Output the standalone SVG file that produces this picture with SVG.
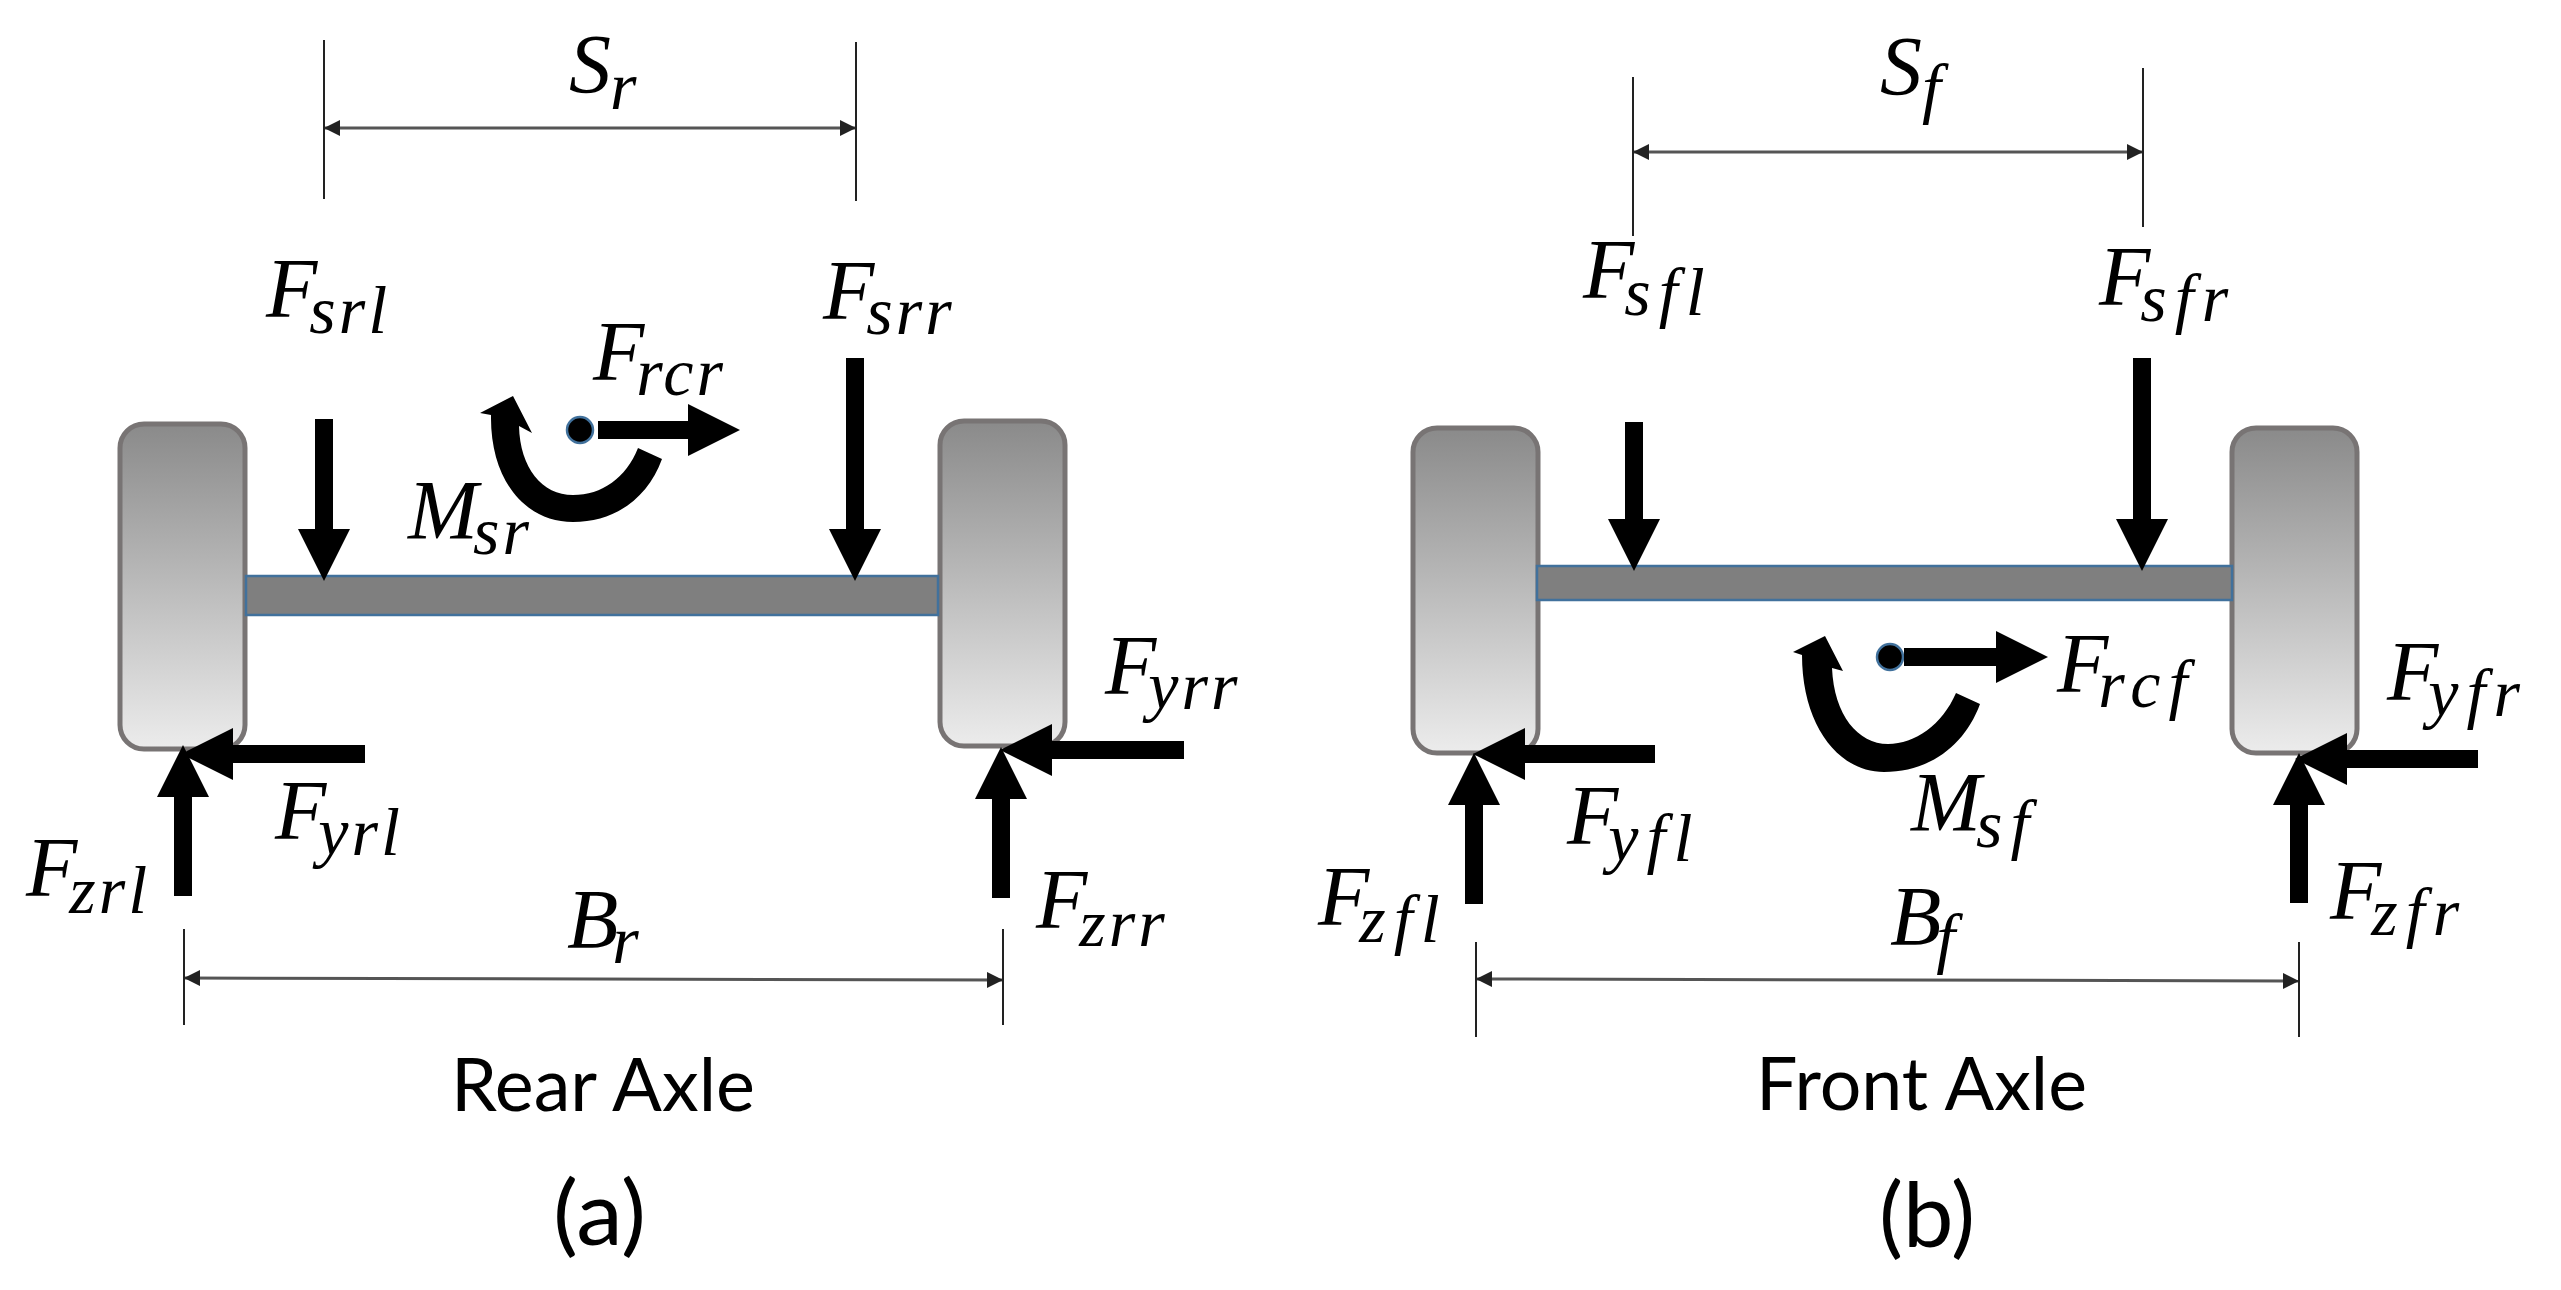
<svg xmlns="http://www.w3.org/2000/svg" width="2561" height="1290" viewBox="0 0 2561 1290">
<style>
.wheel{fill:url(#wheelGrad);stroke:#787474;stroke-width:5}
.axle{fill:#7f7f7f;stroke:#41719c;stroke-width:2.5}
.dot{fill:#000;stroke:#41719c;stroke-width:2.5}
.force{stroke:#000;stroke-width:18;fill:none;marker-end:url(#head)}
.tick{stroke:#222;stroke-width:2;fill:none}
.dim{stroke:#555;stroke-width:3;fill:none;marker-start:url(#dimHead);marker-end:url(#dimHead)}
.m{font-family:"Liberation Serif",serif;font-style:italic;font-size:84px;fill:#000}
.s{font-size:68px;letter-spacing:3px}
.f{font-size:68px;letter-spacing:8px}
.t{font-family:Lato,"Open Sans",sans-serif;fill:#000}
.cap{font-size:73px}
.fig{font-size:89px}
</style>
<defs>
<linearGradient id="wheelGrad" x1="0" y1="0" x2="0" y2="1"><stop offset="0" stop-color="#8a8a8a"/><stop offset="1" stop-color="#ececec"/></linearGradient>
<marker id="head" markerUnits="userSpaceOnUse" viewBox="0 0 52 52" markerWidth="52" markerHeight="52" refX="1" refY="26" orient="auto"><path d="M0 0L52 26L0 52z" fill="#000"/></marker>
<marker id="dimHead" markerUnits="userSpaceOnUse" viewBox="0 0 16 16" markerWidth="16" markerHeight="16" refX="15" refY="8" orient="auto-start-reverse"><path d="M0 0L16 8L0 16z" fill="#222"/></marker>
</defs>
<rect width="2561" height="1290" fill="#fff"/>

<g id="wheel-rear-left"><rect class="wheel" x="120" y="424" width="125" height="325" rx="24"/></g>
<g id="wheel-rear-right"><rect class="wheel" x="940" y="421" width="125" height="325" rx="24"/></g>
<g id="axle-rear"><rect class="axle" x="246" y="576" width="692" height="39"/></g>
<g id="roll-centre-rear"><circle class="dot" cx="580" cy="430" r="13"/></g>
<g id="wheel-front-left"><rect class="wheel" x="1413" y="428" width="125" height="325" rx="24"/></g>
<g id="wheel-front-right"><rect class="wheel" x="2232" y="428" width="125" height="325" rx="24"/></g>
<g id="axle-front"><rect class="axle" x="1537" y="566" width="695" height="34"/></g>
<g id="roll-centre-front"><circle class="dot" cx="1890" cy="657" r="13"/></g>

<g id="connectors">
<line class="tick" x1="324" y1="40" x2="324" y2="199"/>
<line class="tick" x1="856" y1="42" x2="856" y2="201"/>
<line class="dim" x1="325" y1="128" x2="855" y2="128"/>
<line class="tick" x1="184" y1="929" x2="184" y2="1025"/>
<line class="tick" x1="1003" y1="929" x2="1003" y2="1025"/>
<line class="dim" x1="185" y1="978" x2="1002" y2="980"/>
<line class="tick" x1="1633" y1="77" x2="1633" y2="236"/>
<line class="tick" x1="2143" y1="68" x2="2143" y2="227"/>
<line class="dim" x1="1634" y1="152" x2="2142" y2="152"/>
<line class="tick" x1="1476" y1="942" x2="1476" y2="1037"/>
<line class="tick" x1="2299" y1="942" x2="2299" y2="1037"/>
<line class="dim" x1="1477" y1="979" x2="2298" y2="981"/>

<line class="force" x1="324" y1="419" x2="324" y2="530"/>
<line class="force" x1="855" y1="358" x2="855" y2="530"/>
<line class="force" x1="598" y1="430" x2="689" y2="430"/>
<line class="force" x1="183" y1="896" x2="183" y2="796"/>
<line class="force" x1="365" y1="754" x2="232" y2="754"/>
<line class="force" x1="1001" y1="898" x2="1001" y2="798"/>
<line class="force" x1="1184" y1="750" x2="1051" y2="750"/>
<path d="M638 448C626 478 602 495 573 495C542 495 520 468 519 426L532 433L513 396L480 413L491 415C490 480 525 522 573 522C615 522 648 498 662 459Z" fill="#000"/>

<line class="force" x1="1634" y1="422" x2="1634" y2="520"/>
<line class="force" x1="2142" y1="358" x2="2142" y2="520"/>
<line class="force" x1="1904" y1="657" x2="1997" y2="657"/>
<line class="force" x1="1474" y1="904" x2="1474" y2="804"/>
<line class="force" x1="1655" y1="754" x2="1524" y2="754"/>
<line class="force" x1="2299" y1="903" x2="2299" y2="804"/>
<line class="force" x1="2478" y1="759" x2="2346" y2="759"/>
<path d="M1956 693C1942 725 1915 744 1888 744C1858 744 1834 715 1832 668L1843 671L1825 636L1793 652L1802 655C1802 725 1838 772 1884 772C1930 772 1965 745 1980 704Z" fill="#000"/>
</g>

<g id="labels-rear">
<text class="m" x="569" y="93">S<tspan class="s" dy="16" dx="-1">r</tspan></text>
<text class="m" x="266" y="317">F<tspan class="s" dx="-8" dy="16">srl</tspan></text>
<text class="m" x="823" y="319">F<tspan class="s" dx="-8" dy="15">srr</tspan></text>
<text class="m" x="593" y="380">F<tspan class="s" dx="-8" dy="15">rcr</tspan></text>
<text class="m" x="408" y="539">M<tspan class="s" dx="-5" dy="15">sr</tspan></text>
<text class="m" x="1105" y="694">F<tspan class="s" dx="-8" dy="15">yrr</tspan></text>
<text class="m" x="275" y="839">F<tspan class="s" dx="-8" dy="16">yrl</tspan></text>
<text class="m" x="26" y="896">F<tspan class="s" dx="-8" dy="17">zrl</tspan></text>
<text class="m" x="1036" y="928">F<tspan class="s" dx="-8" dy="18">zrr</tspan></text>
<text class="m" x="567" y="948">B<tspan class="s" dx="-6" dy="15">r</tspan></text>
<text class="t cap" x="451" y="1111" textLength="304" lengthAdjust="spacingAndGlyphs">Rear Axle</text>
<text class="t fig" x="553" y="1245" textLength="93" lengthAdjust="spacingAndGlyphs">(a)</text>
</g>
<g id="labels-front">
<text class="m" x="1880" y="95">S<tspan class="f" dy="16">f</tspan></text>
<text class="m" x="1583" y="298">F<tspan class="f" dx="-10" dy="17">sfl</tspan></text>
<text class="m" x="2099" y="305">F<tspan class="f" dx="-10" dy="16">sfr</tspan></text>
<text class="m" x="2057" y="692">F<tspan class="f" dx="-10" dy="15">rcf</tspan></text>
<text class="m" x="2387" y="700">F<tspan class="f" dx="-10" dy="16">yfr</tspan></text>
<text class="m" x="1911" y="831">M<tspan class="f" dx="-5" dy="16">sf</tspan></text>
<text class="m" x="1567" y="844">F<tspan class="f" dx="-10" dy="17">yfl</tspan></text>
<text class="m" x="1318" y="925">F<tspan class="f" dx="-10" dy="17">zfl</tspan></text>
<text class="m" x="2330" y="919">F<tspan class="f" dx="-10" dy="16">zfr</tspan></text>
<text class="m" x="1890" y="945">B<tspan class="f" dx="-5" dy="16">f</tspan></text>
<text class="t cap" x="1756" y="1110" textLength="331" lengthAdjust="spacingAndGlyphs">Front Axle</text>
<text class="t fig" x="1879" y="1247" textLength="96" lengthAdjust="spacingAndGlyphs">(b)</text>
</g>
</svg>
